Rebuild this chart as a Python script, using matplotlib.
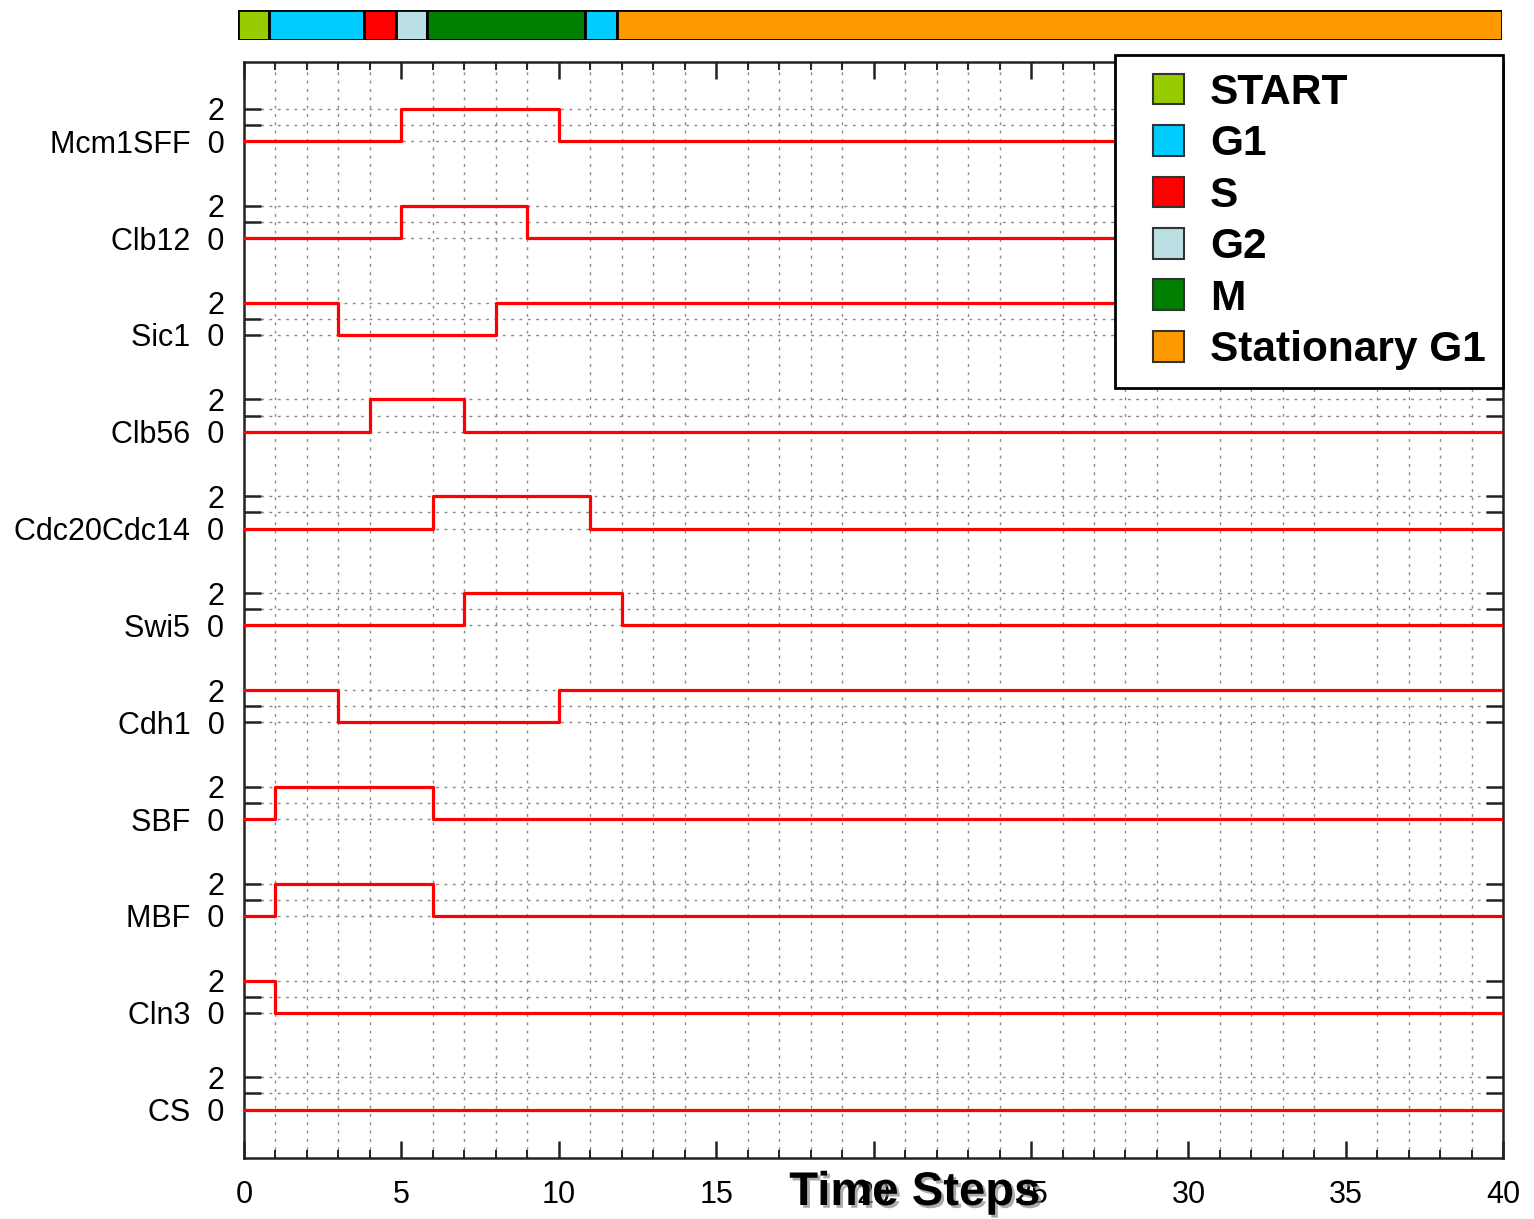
import numpy as np
import matplotlib.pyplot as plt
import matplotlib.patches as mpatches
import matplotlib.patheffects as pe
from matplotlib.legend_handler import HandlerPatch

plt.rcParams['font.family'] = ['Liberation Sans', 'DejaVu Sans']

# gene states for time steps 0..12, the network stays in the last state afterwards
genes = ['Mcm1SFF', 'Clb12', 'Sic1', 'Clb56', 'Cdc20Cdc14', 'Swi5',
	'Cdh1', 'SBF', 'MBF', 'Cln3', 'CS']
mcm1sff = [0, 0, 0, 0, 0, 1, 1, 1, 1, 1, 0, 0, 0]
clb12 = [0, 0, 0, 0, 0, 1, 1, 1, 1, 0, 0, 0, 0]
sic1 = [1, 1, 1, 0, 0, 0, 0, 0, 1, 1, 1, 1, 1]
clb56 = [0, 0, 0, 0, 1, 1, 1, 0, 0, 0, 0, 0, 0]
cdc20cdc14 = [0, 0, 0, 0, 0, 0, 1, 1, 1, 1, 1, 0, 0]
swi5 = [0, 0, 0, 0, 0, 0, 0, 1, 1, 1, 1, 1, 0]
cdh1 = [1, 1, 1, 0, 0, 0, 0, 0, 0, 0, 1, 1, 1]
sbf = [0, 1, 1, 1, 1, 1, 0, 0, 0, 0, 0, 0, 0]
mbf = [0, 1, 1, 1, 1, 1, 0, 0, 0, 0, 0, 0, 0]
cln3 = [1, 0, 0, 0, 0, 0, 0, 0, 0, 0, 0, 0, 0]
cs = [0, 0, 0, 0, 0, 0, 0, 0, 0, 0, 0, 0, 0]
states = [mcm1sff, clb12, sic1, clb56, cdc20cdc14, swi5, cdh1, sbf, mbf, cln3, cs]
n_steps = 40

# cell cycle phases
phase_names = ['START', 'G1', 'S', 'G2', 'M', 'G1', 'Stationary G1']
phase_start = [0, 1, 4, 5, 6, 11, 12]
phase_end = [1, 4, 5, 6, 11, 12, 40]
phase_colors = ['#99cc00', '#00ccff', '#ff0000', '#bbe0e3', '#007f00', '#00ccff', '#ff9900']


def square_patch(legend, orig_handle, xdescent, ydescent, width, height, fontsize):
	# square sitting at the right end of the handle box
	return mpatches.Rectangle((-xdescent + width - height, -ydescent), height, height)


fig = plt.figure(figsize=(15.34, 12.19), dpi=100)
ax = fig.add_axes([0.159, 0.050, 0.821, 0.899])

t = np.arange(n_steps + 1)
spacing = 6
ngen = len(genes)
yt = []
ylab = []
for i in range(ngen):
	base = spacing * (ngen - 1 - i)
	s = np.array(states[i] + [states[i][-1]] * (n_steps + 1 - len(states[i])))
	ax.plot(t, base + 2 * s, drawstyle='steps-post', color='#ff0000', lw=2.3, zorder=3)
	yt += [base, base + 1, base + 2]
	ylab += [genes[i] + '  0', '', '2']

ax.set_xlim(0, n_steps)
ax.set_ylim(-3, 64.9)
ax.set_yticks(yt)
ax.set_yticklabels(ylab)
ax.set_xticks(np.arange(0, n_steps + 1, 5))
ax.set_xticks(np.arange(0, n_steps + 1, 1), minor=True)
ax.tick_params(which='both', direction='in', top=True, right=True, labelsize=22, color='#222222')
ax.tick_params(which='major', length=12, width=1.8)
ax.tick_params(which='minor', length=6, width=1.4)
ax.tick_params(axis='x', pad=16)
ax.tick_params(axis='y', pad=14)
ax.grid(True, which='minor', axis='x', color='#888888', ls=(0, (2, 4)), lw=1)
ax.grid(True, which='major', axis='y', color='#888888', ls=(0, (2, 4)), lw=1)
for sp in ax.spines.values():
	sp.set_linewidth(1.8)
	sp.set_color('#222222')

# phase bar on top
bx = fig.add_axes([0.155, 0.967, 0.824, 0.0246])
for i in range(len(phase_names)):
	bx.add_patch(mpatches.Rectangle((phase_start[i], 0), phase_end[i] - phase_start[i], 1,
		facecolor=phase_colors[i], edgecolor='black', lw=2))
bx.set_xlim(0, n_steps)
bx.set_ylim(0, 1)
bx.axis('off')

handles = []
for i in [0, 1, 2, 3, 4, 6]:
	handles.append(mpatches.Patch(facecolor=phase_colors[i], edgecolor='#333333', lw=1.5, label=phase_names[i]))
leg = ax.legend(handles=handles, loc='upper right', bbox_to_anchor=(1.0, 1.0065),
	prop={'weight': 'bold', 'size': 30.5}, frameon=True, fancybox=False, framealpha=1,
	edgecolor='black', handlelength=1.2, handleheight=0.74, handletextpad=0.62,
	labelspacing=0.27, borderpad=0.42, borderaxespad=0,
	handler_map={mpatches.Patch: HandlerPatch(patch_func=square_patch)})
leg.get_frame().set_linewidth(2)
leg.set_zorder(10)

fig.text(915 / 1534, 1 - 1193 / 1219, 'Time Steps', fontsize=34, fontweight='bold',
	ha='center', va='center',
	path_effects=[pe.SimplePatchShadow(offset=(2, -2), shadow_rgbFace='#888888', alpha=0.7), pe.Normal()])

plt.savefig('out.png', dpi=100)
